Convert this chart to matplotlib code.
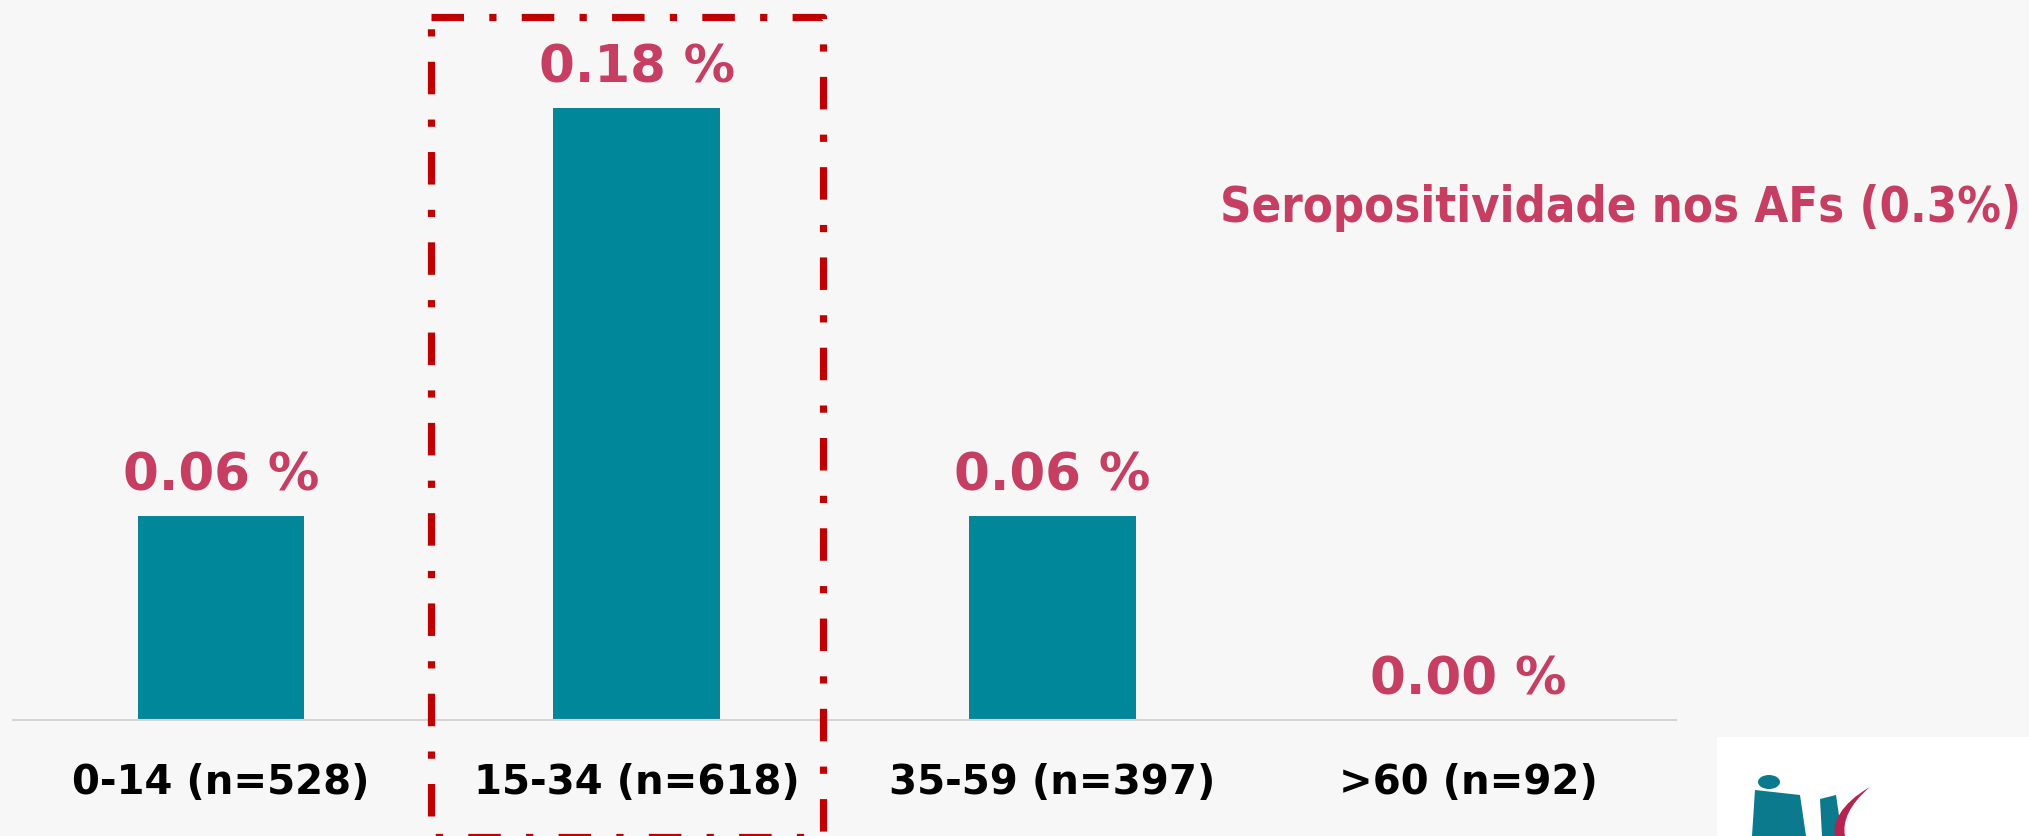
import matplotlib
matplotlib.use("Agg")
import matplotlib.pyplot as plt
from matplotlib.patches import Rectangle, Ellipse, Polygon, PathPatch
from matplotlib.path import Path
from matplotlib.lines import Line2D

categories = ["0-14 (n=528)", "15-34 (n=618)", "35-59 (n=397)", ">60 (n=92)"]
values = [0.06, 0.18, 0.06, 0.00]
value_labels = ["0.06 %", "0.18 %", "0.06 %", "0.00 %"]
title_text = "Seropositividade nos AFs (0.3%)"

W, H = 2029, 837
fig = plt.figure(figsize=(W / 100, H / 100), dpi=100)
fig.patch.set_facecolor("#F7F7F7")

bar_color = "#00889A"
label_color = "#C63E62"
box_color = "#C00000"

ax_left, ax_right = 13, 1676
ax_base, ax_top = 721, 41
ax = fig.add_axes([ax_left / W, 1 - ax_base / H, (ax_right - ax_left) / W, (ax_base - ax_top) / H])
ax.set_facecolor("none")
x = list(range(len(categories)))
ax.bar(x, values, width=0.4, color=bar_color, zorder=2)
ax.set_xlim(-0.5, len(categories) - 0.5)
ax.set_ylim(0, 0.2)
for s in ["top", "right", "left"]:
    ax.spines[s].set_visible(False)
ax.spines["bottom"].set_color("#D4D4D4")
ax.spines["bottom"].set_linewidth(1.5)
ax.set_yticks([])
ax.set_xticks(x)
ax.set_xticklabels(categories, fontsize=29, fontweight="bold", family="DejaVu Sans")
ax.tick_params(axis="x", length=0, pad=30)

for xi, v, lab in zip(x, values, value_labels):
    ax.annotate(lab, (xi, v), xytext=(0, 11), textcoords="offset points",
                ha="center", va="bottom", fontsize=37, fontweight="bold",
                color=label_color)

fig.text(2021 / W, 1 - 208 / H, title_text, ha="right", va="center",
         fontsize=35, fontweight="bold", color=label_color, fontstretch="condensed")

# dash-dot highlight box
bx0, bx1, by0, by1 = 431, 823, 18, 838
xs = [bx0 / W, bx1 / W, bx1 / W, bx0 / W, bx0 / W]
ys = [1 - by0 / H, 1 - by0 / H, 1 - by1 / H, 1 - by1 / H, 1 - by0 / H]
ln = Line2D(xs, ys, transform=fig.transFigure, color=box_color, linewidth=5.2,
            dashes=(4.5, 3.5, 1.0, 3.5), solid_capstyle="butt", dash_capstyle="butt")
fig.add_artist(ln)

# logo box at bottom right
fig.add_artist(Rectangle((1717 / W, 0), (W - 1717) / W, (H - 738) / H,
                         transform=fig.transFigure, facecolor="white", edgecolor="none"))
def fp(px, py):
    return (px / W, 1 - py / H)
logo_teal = "#0A7A8C"
fig.add_artist(Ellipse(fp(1769, 783), 22 / W, 14 / H, transform=fig.transFigure,
                       facecolor=logo_teal, edgecolor="none"))
fig.add_artist(Polygon([fp(1755, 791), fp(1800, 796), fp(1806, 837), fp(1752, 837)],
                       closed=True, transform=fig.transFigure, facecolor=logo_teal, edgecolor="none"))
fig.add_artist(Polygon([fp(1820, 800), fp(1836, 796), fp(1842, 837), fp(1822, 837)],
                       closed=True, transform=fig.transFigure, facecolor=logo_teal, edgecolor="none"))
verts = [fp(1870, 788), fp(1840, 805), fp(1832, 825), fp(1835, 837),
         fp(1845, 837), fp(1842, 822), fp(1850, 805), fp(1870, 788)]
codes = [Path.MOVETO, Path.CURVE4, Path.CURVE4, Path.CURVE4,
         Path.LINETO, Path.CURVE4, Path.CURVE4, Path.CURVE4]
fig.add_artist(PathPatch(Path(verts, codes), transform=fig.transFigure,
                         facecolor="#B5234F", edgecolor="none"))

fig.savefig("out.png", dpi=100, facecolor=fig.get_facecolor())
